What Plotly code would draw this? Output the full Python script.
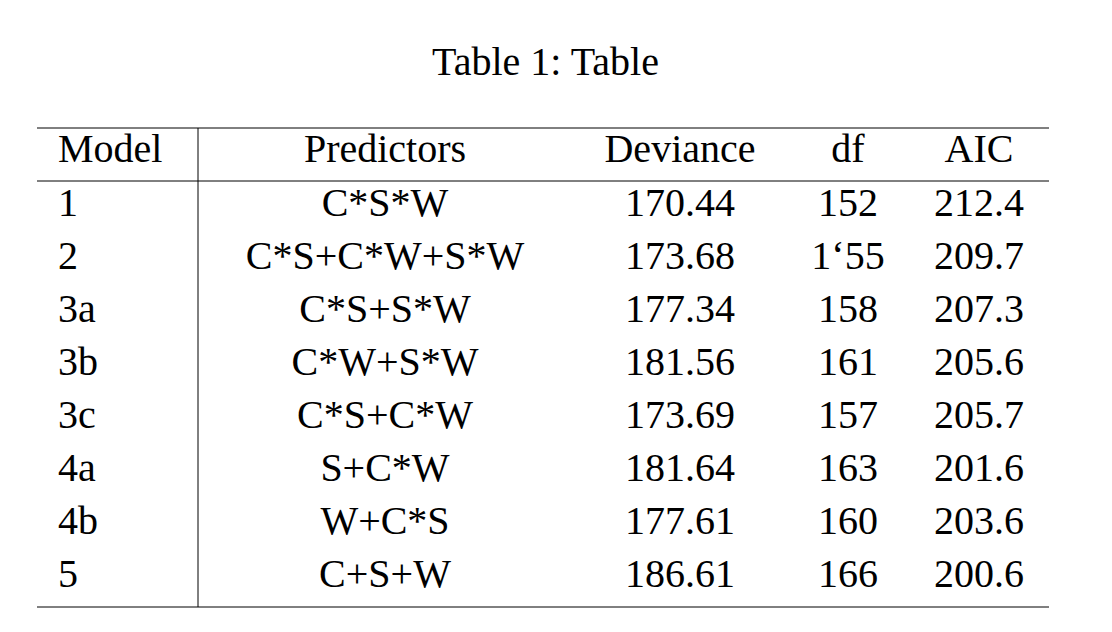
import plotly.graph_objects as go

title = "Table 1: Table"
headers = ["Model", "Predictors", "Deviance", "df", "AIC"]
models = ["1", "2", "3a", "3b", "3c", "4a", "4b", "5"]
predictors = ["C*S*W", "C*S+C*W+S*W", "C*S+S*W", "C*W+S*W", "C*S+C*W",
              "S+C*W", "W+C*S", "C+S+W"]
deviance = ["170.44", "173.68", "177.34", "181.56", "173.69", "181.64", "177.61", "186.61"]
df = ["152", "1‘55", "158", "161", "157", "163", "160", "166"]
aic = ["212.4", "209.7", "207.3", "205.6", "205.7", "201.6", "203.6", "200.6"]

W, H = 1112, 632
dx, dy = -8, -7  # compensate page offset
font = dict(family="Liberation Serif", size=40, color="black")

row_y = [205 + dy + 53 * i for i in range(len(models))]
header_y = 151 + dy

fig = go.Figure()
cols = [
    (models, 58, "middle right"),
    (predictors, 385, "middle center"),
    (deviance, 680, "middle center"),
    (df, 848, "middle center"),
    (aic, 979, "middle center"),
]
for (vals, x, pos), head in zip(cols, headers):
    fig.add_trace(go.Scatter(x=[x + dx] * (len(vals) + 1), y=[header_y] + row_y,
                             text=[head] + vals, mode="text", textposition=pos,
                             textfont=font, hoverinfo="skip", showlegend=False))

line = dict(color="black", width=1)
for y in [127, 180, 606]:
    fig.add_shape(type="line", x0=37 + dx, x1=1049 + dx, y0=y + dy, y1=y + dy, line=line)
fig.add_shape(type="line", x0=198 + dx, x1=198 + dx, y0=127 + dy, y1=606 + dy, line=line)

fig.add_annotation(x=545 + dx, y=60 + dy, text=title, showarrow=False, font=font)

fig.update_xaxes(range=[0, W], visible=False)
fig.update_yaxes(range=[H, 0], visible=False)
fig.update_layout(width=W, height=H, margin=dict(l=0, r=0, t=0, b=0),
                  plot_bgcolor="white", paper_bgcolor="white")
fig.write_html("out.html")
